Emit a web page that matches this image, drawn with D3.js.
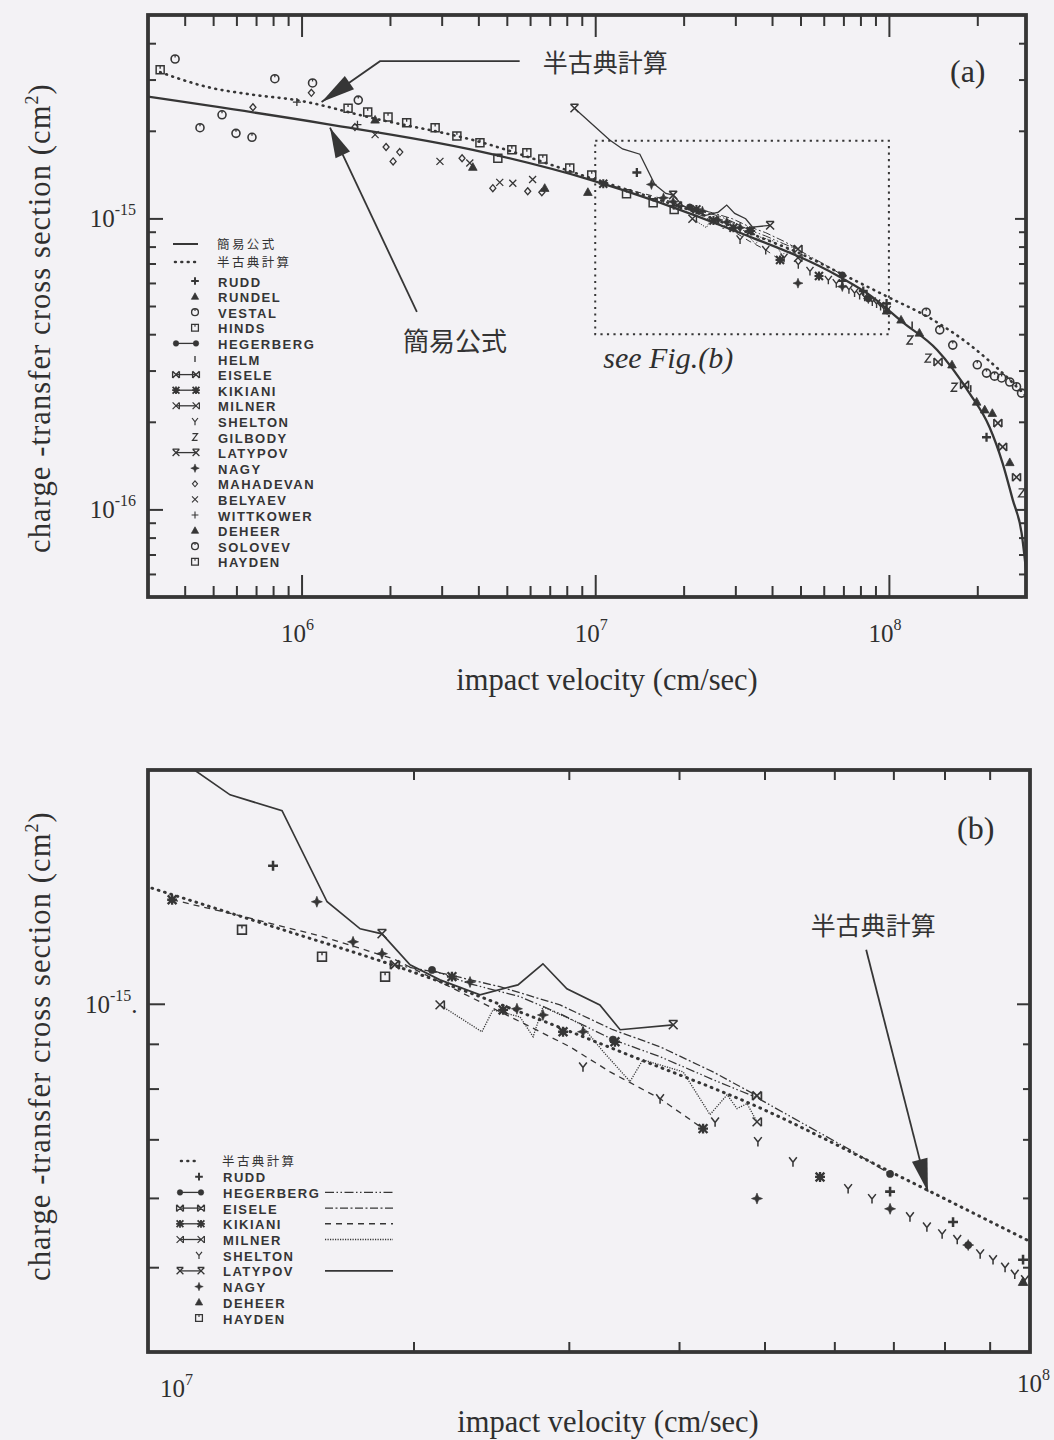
<!DOCTYPE html>
<html>
<head>
<meta charset="utf-8">
<script src="https://cdn.jsdelivr.net/npm/d3@7"></script>
<style>
  body { margin: 0; background: #f3f2f5; }
  svg { display: block; }
  .serif { font-family: "Liberation Serif", "Times New Roman", serif; fill: #2f2f2f; }
  .jp { font-family: "Noto Sans CJK JP", sans-serif; fill: #333; }
  .leg { font-family: "Liberation Sans", Arial, sans-serif; font-weight: bold; font-size: 13px; letter-spacing: 1.5px; fill: #353535; }
</style>
</head>
<body>
<svg id="chart" width="1054" height="1440"></svg>
<script>
// velocity in cm/sec, cross section in units of 1e-16 cm^2

var legendA = ["簡易公式", "半古典計算", "RUDD", "RUNDEL", "VESTAL", "HINDS", "HEGERBERG", "HELM",
  "EISELE", "KIKIANI", "MILNER", "SHELTON", "GILBODY", "LATYPOV", "NAGY", "MAHADEVAN",
  "BELYAEV", "WITTKOWER", "DEHEER", "SOLOVEV", "HAYDEN"];
var legendB = ["半古典計算", "RUDD", "HEGERBERG", "EISELE", "KIKIANI", "MILNER", "SHELTON",
  "LATYPOV", "NAGY", "DEHEER", "HAYDEN"];

var xMajorA = [1e6, 1e7, 1e8];
var yMajorA = [1, 10];
var xEndsB = [1e7, 1e8];
var yMajorB = [10];

// 簡易公式
var formulaLine = [[3.0e5, 26.2], [1.22e6, 21.1], [3.83e6, 17.2], [9.57e6, 13.6], [2.94e7, 9.12],
  [6.79e7, 6.3], [8.61e7, 5.45], [1.11e8, 4.41], [1.46e8, 3.53], [1.88e8, 2.51], [2.20e8, 1.92],
  [2.44e8, 1.44], [2.64e8, 1.08], [2.83e8, 0.83], [2.93e8, 0.62]];
// 半古典計算
var semiLine = [[3.3e5, 31.8], [4.77e5, 28.3], [6.83e5, 26.6], [9.6e5, 25.5], [1.75e6, 22.1],
  [3.83e6, 18.6], [1.0e7, 13.6], [1.386e7, 12.25], [1.967e7, 10.93], [2.782e7, 9.59],
  [3.548e7, 8.70], [4.903e7, 7.63], [6.94e7, 6.43], [1.0e8, 5.35], [1.376e8, 4.55],
  [1.884e8, 3.68], [2.38e8, 3.01], [2.93e8, 2.45]];

var rudd = [[1.386e7, 14.38], [6.94e7, 6.10], [8.18e7, 5.63], [9.82e7, 5.10], [2.15e8, 1.77]];
var rundel = [[9.44e6, 12.3], [1.27e8, 4.04], [2.12e8, 2.20]];
var vestal = [[4.51e5, 20.5], [5.36e5, 22.7], [5.98e5, 19.6], [6.78e5, 19.0], [1.49e8, 4.14]];
var hinds = [[3.30e5, 32.4], [1.44e6, 23.9], [1.68e6, 23.2], [1.97e6, 22.3], [2.28e6, 21.3],
  [2.85e6, 20.5], [3.38e6, 19.2], [4.05e6, 18.2]];
var hegerbergLine = [[2.099e7, 10.93], [2.318e7, 10.54], [2.641e7, 10.19], [2.932e7, 9.74],
  [3.366e7, 9.10], [3.807e7, 8.70], [4.371e7, 8.19], [4.903e7, 7.81], [5.486e7, 7.33],
  [6.251e7, 6.81], [6.94e7, 6.39]];
var hegerbergPts = [[2.099e7, 10.93], [3.366e7, 9.10], [6.94e7, 6.39], [8.51e7, 5.30]];
var helm = [[1.2e8, 4.3], [1.9e8, 2.6]];
var eiseleLine = [[1.905e7, 11.08], [2.171e7, 10.82], [2.506e7, 10.46], [2.932e7, 9.97],
  [3.366e7, 9.34], [3.807e7, 8.93], [4.371e7, 8.36], [4.903e7, 7.85]];
var eiselePts = [[1.905e7, 11.08], [4.903e7, 7.85], [1.47e8, 3.21], [1.81e8, 2.68],
  [2.35e8, 1.98], [2.44e8, 1.64], [2.72e8, 1.29]];
var kikianiLine = [[1.065e7, 13.15], [1.271e7, 12.61], [1.579e7, 11.93], [1.896e7, 11.26],
  [2.258e7, 10.32], [2.641e7, 9.54], [3.009e7, 8.93], [3.341e7, 8.36], [3.807e7, 7.79],
  [4.259e7, 7.20]];
var kikianiPts = [[1.065e7, 13.15], [2.211e7, 10.74], [2.527e7, 9.84], [2.955e7, 9.29],
  [3.384e7, 9.05], [4.259e7, 7.20], [5.78e7, 6.34]];
var milnerLine = [[2.143e7, 9.97], [2.391e7, 9.29], [2.461e7, 9.84], [2.641e7, 9.66],
  [2.733e7, 9.17], [2.804e7, 9.92], [3.09e7, 9.49], [3.281e7, 8.82], [3.52e7, 8.15],
  [3.64e7, 8.63], [4.043e7, 8.36], [4.337e7, 7.47], [4.535e7, 7.87], [4.654e7, 7.59],
  [4.777e7, 7.69], [4.903e7, 7.33]];
var milnerPts = [[2.143e7, 9.97], [4.903e7, 7.33]];
var shelton = [[3.113e7, 8.47], [3.807e7, 7.79], [4.395e7, 7.33], [4.915e7, 6.96], [5.386e7, 6.60],
  [6.22e7, 6.15], [6.62e7, 5.99], [7.31e7, 5.71], [7.64e7, 5.56], [7.95e7, 5.46], [8.27e7, 5.38],
  [8.78e7, 5.18], [9.08e7, 5.10], [9.37e7, 5.00], [9.61e7, 4.91], [9.87e7, 4.84]];
var gilbody = [[1.18e8, 3.82], [1.36e8, 3.31], [1.67e8, 2.63], [2.83e8, 1.14]];
var latypovLine = [[8.5e6, 23.9], [1.12e7, 18.6], [1.239e7, 17.33], [1.419e7, 16.62],
  [1.596e7, 13.08], [1.74e7, 12.18], [1.842e7, 12.02], [1.982e7, 11.08], [2.143e7, 10.65],
  [2.379e7, 10.24], [2.627e7, 10.51], [2.804e7, 11.11], [2.985e7, 10.40], [3.253e7, 9.97],
  [3.43e7, 9.34], [3.94e7, 9.46]];
var latypovPts = [[8.5e6, 23.9], [1.842e7, 12.02], [3.94e7, 9.46]];
var nagy = [[1.554e7, 13.08], [1.708e7, 11.77], [1.842e7, 11.41], [2.318e7, 10.59], [2.62e7, 9.87],
  [2.804e7, 9.71], [3.113e7, 9.29], [4.903e7, 5.99], [6.94e7, 5.83], [8.51e7, 5.30]];
var mahadevan = [[6.83e5, 24.1], [1.08e6, 27.0], [1.52e6, 20.6], [1.94e6, 17.6], [2.16e6, 16.9],
  [2.05e6, 15.7], [3.52e6, 16.1], [4.48e6, 12.7], [5.89e6, 12.4], [6.58e6, 12.3]];
var belyaev = [[1.78e6, 19.4], [2.96e6, 15.7], [3.74e6, 15.5], [4.73e6, 13.3], [5.24e6, 13.2],
  [6.12e6, 13.6]];
var wittkower = [[9.64e5, 25.1], [1.55e6, 21.0]];
var deheer = [[1.78e6, 21.8], [3.83e6, 15.0], [6.73e6, 12.7], [9.82e7, 4.81], [1.10e8, 4.48],
  [1.64e8, 3.14], [1.99e8, 2.34], [2.25e8, 2.14], [2.58e8, 1.45]];
var solovev = [[3.71e5, 35.3], [8.11e5, 30.2], [1.09e6, 29.2], [1.56e6, 25.5], [1.34e8, 4.76],
  [1.65e8, 3.67], [2.0e8, 3.14], [2.15e8, 2.94], [2.29e8, 2.87], [2.42e8, 2.83], [2.58e8, 2.74],
  [2.72e8, 2.64], [2.83e8, 2.51]];
var hayden = [[4.66e6, 16.1], [5.2e6, 17.2], [5.85e6, 16.8], [6.63e6, 16.0], [8.19e6, 14.9],
  [9.73e6, 14.1], [1.278e7, 12.15], [1.575e7, 11.32], [1.857e7, 10.74]];

// region of (a) enlarged in (b)
var zoomBox = [[1e7, 4], [1e8, 18.5]];

var series = [
  { name: "RUDD", pts: rudd, marker: "plus" },
  { name: "RUNDEL", pts: rundel, marker: "tri" },
  { name: "VESTAL", pts: vestal, marker: "circleDot" },
  { name: "HINDS", pts: hinds, marker: "squareDot" },
  { name: "HEGERBERG", pts: hegerbergPts, line: hegerbergLine, marker: "dot", dash: "9,2.5,1.5,2.5,1.5,2.5" },
  { name: "HELM", pts: helm, marker: "bar" },
  { name: "EISELE", pts: eiselePts, line: eiseleLine, marker: "bowtie", dash: "8,2.5,2,2.5" },
  { name: "KIKIANI", pts: kikianiPts, line: kikianiLine, marker: "aster", dash: "6,5" },
  { name: "MILNER", pts: milnerPts, line: milnerLine, marker: "xbar", dash: "1.2,1.3" },
  { name: "SHELTON", pts: shelton, marker: "Y" },
  { name: "GILBODY", pts: gilbody, marker: "Z" },
  { name: "LATYPOV", pts: latypovPts, line: latypovLine, marker: "xtop", dash: null },
  { name: "NAGY", pts: nagy, marker: "star4" },
  { name: "MAHADEVAN", pts: mahadevan, marker: "diamond" },
  { name: "BELYAEV", pts: belyaev, marker: "x" },
  { name: "WITTKOWER", pts: wittkower, marker: "plusThin" },
  { name: "DEHEER", pts: deheer, marker: "tri" },
  { name: "SOLOVEV", pts: solovev, marker: "circleDot" },
  { name: "HAYDEN", pts: hayden, marker: "squareDot" }
];
var byName = {};
series.forEach(function(s) { byName[s.name] = s; });

var ink = "#363636";
var svg = d3.select("#chart");

function drawMarker(g, type, x, y, s) {
    s = s || 1;
    var m = g.append("g").attr("transform", "translate(" + x + "," + y + ") scale(" + s + ")");
    var p = function(d, w, fill) {
        m.append("path").attr("d", d)
            .attr("fill", fill ? ink : "none")
            .attr("stroke", ink)
            .attr("stroke-width", w);
    };
    switch (type) {
    case "plus": p("M-4.5,0H4.5M0,-4.5V4.5", 2.3); break;
    case "plusThin": p("M-4,0H4M0,-4V4", 1.3); break;
    case "tri": p("M0,-4.5L4.3,3.2L-4.3,3.2Z", 0.8, true); break;
    case "circleDot": p("M4,0A4,4 0 1 1 -4,0A4,4 0 1 1 4,0", 1.6); p("M0,-4V-1.5", 1.3); break;
    case "squareDot": p("M-4,-4H4V4H-4Z", 1.5); p("M0,-4V-1.2", 1.3); break;
    case "dot": p("M3.3,0A3.3,3.3 0 1 1 -3.3,0A3.3,3.3 0 1 1 3.3,0Z", 0.5, true); break;
    case "bar": p("M0,-3.5V3.5", 1.6); break;
    case "bowtie": p("M-4,-4L4,4M-4,4L4,-4M-4,-4V4M4,-4V4", 1.6); break;
    case "aster": p("M-4,-4L4,4M-4,4L4,-4M0,-4.5V4.5M-4.5,0H4.5", 2.1); break;
    case "xbar": p("M-4,-4L4,4M-4,4L4,-4M4,-4V4", 1.4); break;
    case "Y": p("M-3.5,-4L0,0.5L3.5,-4M0,0.5V4.5", 1.4); break;
    case "Z": p("M-3,-4H3L-3,4H3", 1.4); break;
    case "xtop": p("M-4,-4H4M-4,-4L4,4M4,-4L-4,4", 1.5); break;
    case "star4": p("M0,-5L1.4,-1.4L5,0L1.4,1.4L0,5L-1.4,1.4L-5,0L-1.4,-1.4Z", 0.6, true); break;
    case "diamond": p("M0,-3.5L3,0L0,3.5L-3,0Z", 1.3); break;
    case "x": p("M-3.5,-3.5L3.5,3.5M-3.5,3.5L3.5,-3.5", 1.3); break;
    }
}

// all k*10^n strictly inside (lo, hi)
function logTicks(lo, hi) {
    var out = [];
    for (var n = Math.floor(Math.log10(lo)); n <= Math.ceil(Math.log10(hi)); n++) {
        for (var k = 1; k <= 9; k++) {
            var v = k * Math.pow(10, n);
            if (v > lo * 1.0001 && v < hi * 0.9999) out.push({ v: v, major: k == 1 });
        }
    }
    return out;
}

function tickSet(g, axisFn, scale, vals, len, tr) {
    g.append("g").attr("transform", tr)
        .call(axisFn(scale).tickValues(vals).tickSize(-len).tickFormat(""))
        .call(function(s) { s.select(".domain").remove(); })
        .call(function(s) { s.selectAll("line").attr("stroke", ink).attr("stroke-width", 2); });
}

function drawFrame(g, x, y, len) {
    var xr = x.range(), yr = y.range();
    var xt = logTicks(x.domain()[0], x.domain()[1]);
    var yt = logTicks(y.domain()[0], y.domain()[1]);
    var xMaj = xt.filter(function(d) { return d.major; }).map(function(d) { return d.v; });
    var xMin = xt.filter(function(d) { return !d.major; }).map(function(d) { return d.v; });
    var yMaj = yt.filter(function(d) { return d.major; }).map(function(d) { return d.v; });
    var yMin = yt.filter(function(d) { return !d.major; }).map(function(d) { return d.v; });
    tickSet(g, d3.axisBottom, x, xMaj, len.xMaj, "translate(0," + yr[0] + ")");
    tickSet(g, d3.axisBottom, x, xMin, len.xMin, "translate(0," + yr[0] + ")");
    tickSet(g, d3.axisTop, x, xMaj, len.xMaj, "translate(0," + yr[1] + ")");
    tickSet(g, d3.axisTop, x, xMin, len.xMin, "translate(0," + yr[1] + ")");
    tickSet(g, d3.axisLeft, y, yMaj, len.yMaj, "translate(" + xr[0] + ",0)");
    tickSet(g, d3.axisLeft, y, yMin, len.yMin, "translate(" + xr[0] + ",0)");
    tickSet(g, d3.axisRight, y, yMaj, len.rMaj, "translate(" + xr[1] + ",0)");
    tickSet(g, d3.axisRight, y, yMin, len.rMin, "translate(" + xr[1] + ",0)");
    g.append("rect").attr("x", xr[0]).attr("y", yr[1])
        .attr("width", xr[1] - xr[0]).attr("height", yr[0] - yr[1])
        .attr("fill", "none").attr("stroke", ink).attr("stroke-width", 3.8);
}

function powLabel(g, x, y, exp, anchor, tail) {
    var t = g.append("text").attr("class", "serif").attr("x", x).attr("y", y)
        .attr("text-anchor", anchor).attr("font-size", 25);
    t.append("tspan").text("10");
    t.append("tspan").attr("font-size", 16).attr("dy", -12).text(exp);
    if (tail) t.append("tspan").attr("dy", 12).text(tail);
}

function axisTitles(g, x, y, cx, cy) {
    g.append("text").attr("class", "serif").attr("x", cx).attr("y", y)
        .attr("text-anchor", "middle").attr("font-size", 30.5).text("impact velocity (cm/sec)");
    var t = g.append("text").attr("class", "serif")
        .attr("transform", "translate(" + x + "," + cy + ") rotate(-90)")
        .attr("text-anchor", "middle").attr("font-size", 30.5).attr("letter-spacing", 1.1);
    t.append("tspan").text("charge -transfer cross section (cm");
    t.append("tspan").attr("font-size", 18).attr("dy", -12).text("2");
    t.append("tspan").attr("dy", 12).text(")");
}

function arrow(g, pts, len, half) {
    g.append("path").attr("d", d3.line()(pts))
        .attr("fill", "none").attr("stroke", ink).attr("stroke-width", 1.8);
    var a = pts[pts.length - 2], b = pts[pts.length - 1];
    var dx = b[0] - a[0], dy = b[1] - a[1], L = Math.sqrt(dx * dx + dy * dy);
    var ux = dx / L, uy = dy / L;
    var bx = b[0] - ux * len, by = b[1] - uy * len;
    g.append("path")
        .attr("d", "M" + b[0] + "," + b[1] + "L" + (bx - uy * half) + "," + (by + ux * half)
            + "L" + (bx + uy * half) + "," + (by - ux * half) + "Z")
        .attr("fill", ink);
}

function dataLayer(g, x, y, names, clipId, ms, lw) {
    var lineGen = d3.line().x(function(d) { return x(d[0]); }).y(function(d) { return y(d[1]); });
    var layer = g.append("g").attr("clip-path", "url(#" + clipId + ")");
    names.forEach(function(n) {
        var s = byName[n];
        if (!s || !s.line) return;
        layer.append("path").attr("d", lineGen(s.line)).attr("fill", "none")
            .attr("stroke", ink).attr("stroke-width", n == "LATYPOV" ? lw * 1.3 : lw)
            .attr("stroke-dasharray", s.dash);
    });
    names.forEach(function(n) {
        var s = byName[n];
        if (!s) return;
        s.pts.forEach(function(d) { drawMarker(layer, s.marker, x(d[0]), y(d[1]), ms); });
    });
    return layer;
}

function clip(id, x, y) {
    svg.append("clipPath").attr("id", id).append("rect")
        .attr("x", x.range()[0]).attr("y", y.range()[1])
        .attr("width", x.range()[1] - x.range()[0]).attr("height", y.range()[0] - y.range()[1]);
}

// ---------------- panel (a) ----------------
var xa = d3.scaleLog().domain([3e5, 2.93e8]).range([148, 1026]);
var ya = d3.scaleLog().domain([0.5, 50]).range([597, 15]);
clip("clipA", xa, ya);
var ga = svg.append("g");
var smooth = d3.line().curve(d3.curveMonotoneX)
    .x(function(d) { return xa(d[0]); }).y(function(d) { return ya(d[1]); });

var layerA = dataLayer(ga, xa, ya, series.map(function(s) { return s.name; }), "clipA", 1, 1);
layerA.append("path").attr("d", smooth(formulaLine)).attr("fill", "none")
    .attr("stroke", ink).attr("stroke-width", 2.3);
layerA.append("path").attr("d", smooth(semiLine)).attr("fill", "none")
    .attr("stroke", ink).attr("stroke-width", 2.6).attr("stroke-linecap", "round")
    .attr("stroke-dasharray", "0.8,5.6");

// dotted box -> see Fig.(b)
ga.append("rect")
    .attr("x", xa(zoomBox[0][0])).attr("y", ya(zoomBox[1][1]))
    .attr("width", xa(zoomBox[1][0]) - xa(zoomBox[0][0]))
    .attr("height", ya(zoomBox[0][1]) - ya(zoomBox[1][1]))
    .attr("fill", "none").attr("stroke", ink).attr("stroke-width", 2)
    .attr("stroke-dasharray", "2.2,4.3");
ga.append("text").attr("class", "serif").attr("font-style", "italic").attr("font-size", 30)
    .attr("x", xa(zoomBox[0][0]) + 8).attr("y", ya(zoomBox[0][1]) + 34).text("see Fig.(b)");

drawFrame(ga, xa, ya, { xMaj: 22, xMin: 11, yMaj: 15, yMin: 8, rMaj: 11, rMin: 7 });

xMajorA.forEach(function(v) {
    powLabel(ga, xa(v) - 4, 642, String(Math.round(Math.log10(v))), "middle");
});
yMajorA.forEach(function(v) {
    powLabel(ga, 136, ya(v) + 9, String(Math.round(Math.log10(v * 1e-16))), "end");
});
axisTitles(ga, 50, 690, 607, 318);

ga.append("text").attr("class", "serif").attr("font-size", 32).attr("x", 950).attr("y", 82).text("(a)");

// leaders in (a)
var semiTipA = [[5.53e6, 34.7], [1.85e6, 34.7], [1.17e6, 25.1]].map(function(d) { return [xa(d[0]), ya(d[1])]; });
arrow(ga, semiTipA, 34, 8);
ga.append("text").attr("class", "jp").attr("font-size", 25).attr("dominant-baseline", "central")
    .attr("x", semiTipA[0][0] + 23).attr("y", semiTipA[0][1]).text("半古典計算");
var formTipA = [[2.47e6, 4.77], [1.25e6, 20.5]].map(function(d) { return [xa(d[0]), ya(d[1])]; });
arrow(ga, formTipA, 30, 8);
ga.append("text").attr("class", "jp").attr("font-size", 26).attr("dominant-baseline", "central")
    .attr("x", formTipA[0][0] - 14).attr("y", formTipA[0][1] + 28).text("簡易公式");

// legend (a): the two curve rows are spaced a bit wider than the data rows
var legA = ga.append("g");
legendA.forEach(function(n, i) {
    var cy = i < 2 ? 244 + i * 18 : 281 + (i - 2) * 15.6;
    var s = byName[n];
    if (i == 0) {
        legA.append("line").attr("x1", 173).attr("x2", 198).attr("y1", cy).attr("y2", cy)
            .attr("stroke", ink).attr("stroke-width", 2);
    } else if (i == 1) {
        legA.append("line").attr("x1", 175).attr("x2", 197).attr("y1", cy).attr("y2", cy)
            .attr("stroke", ink).attr("stroke-width", 2.6).attr("stroke-linecap", "round")
            .attr("stroke-dasharray", "0.8,5.6");
    } else if (s.line) {
        legA.append("line").attr("x1", 176).attr("x2", 196).attr("y1", cy).attr("y2", cy)
            .attr("stroke", ink).attr("stroke-width", 1.3);
        drawMarker(legA, s.marker, 176, cy, 0.85);
        drawMarker(legA, s.marker, 196, cy, 0.85);
    } else {
        drawMarker(legA, s.marker, 195, cy, 0.85);
    }
    if (i < 2) {
        legA.append("text").attr("class", "jp").attr("font-size", 12.5).attr("letter-spacing", 2.4)
            .attr("x", 217).attr("y", cy + 4.5).text(n);
    } else {
        legA.append("text").attr("class", "leg").attr("x", 218).attr("y", cy + 5.5).text(n);
    }
});

// ---------------- panel (b) ----------------
var xb = d3.scaleLog().domain([1e7, 1e8]).range([148, 1030]);
var yb = d3.scaleLog().domain([4, 18.5]).range([1352, 770]);
clip("clipB", xb, yb);
var gb = svg.append("g");
var smoothB = d3.line().curve(d3.curveMonotoneX)
    .x(function(d) { return xb(d[0]); }).y(function(d) { return yb(d[1]); });

var layerB = dataLayer(gb, xb, yb, legendB, "clipB", 1.1, 1.3);
layerB.append("path").attr("d", smoothB(semiLine)).attr("fill", "none")
    .attr("stroke", ink).attr("stroke-width", 3).attr("stroke-linecap", "round")
    .attr("stroke-dasharray", "0.8,5.8");

drawFrame(gb, xb, yb, { xMaj: 18, xMin: 10, yMaj: 17, yMin: 11, rMaj: 13, rMin: 7 });

powLabel(gb, 160, 1397, String(Math.log10(xEndsB[0])), "start");
powLabel(gb, 1050, 1392, String(Math.log10(xEndsB[1])), "end");
yMajorB.forEach(function(v) {
    powLabel(gb, 85, yb(v) + 9, String(Math.round(Math.log10(v * 1e-16))), "start", ".");
});
axisTitles(gb, 50, 1432, 608, 1046);
gb.append("text").attr("class", "serif").attr("font-size", 32).attr("x", 957).attr("y", 839).text("(b)");

var semiTipB = [[6.52e7, 11.53], [7.66e7, 6.10]].map(function(d) { return [xb(d[0]), yb(d[1])]; });
arrow(gb, semiTipB, 33, 8);
gb.append("text").attr("class", "jp").attr("font-size", 25).attr("dominant-baseline", "central")
    .attr("text-anchor", "middle").attr("x", semiTipB[0][0] + 7).attr("y", semiTipB[0][1] - 26)
    .text("半古典計算");

// legend (b)
var legB = gb.append("g");
legendB.forEach(function(n, i) {
    var cy = 1161 + i * 15.7;
    var s = byName[n];
    if (i == 0) {
        legB.append("line").attr("x1", 181).attr("x2", 198).attr("y1", cy).attr("y2", cy)
            .attr("stroke", ink).attr("stroke-width", 2.6).attr("stroke-linecap", "round")
            .attr("stroke-dasharray", "0.8,5.6");
        legB.append("text").attr("class", "jp").attr("font-size", 12.5).attr("letter-spacing", 2.4)
            .attr("x", 222).attr("y", cy + 4.5).text(n);
        return;
    }
    if (s.line) {
        legB.append("line").attr("x1", 180).attr("x2", 201).attr("y1", cy).attr("y2", cy)
            .attr("stroke", ink).attr("stroke-width", 1.3);
        drawMarker(legB, s.marker, 180, cy, 0.85);
        drawMarker(legB, s.marker, 201, cy, 0.85);
        legB.append("line").attr("x1", 325).attr("x2", 393).attr("y1", cy).attr("y2", cy)
            .attr("stroke", ink).attr("stroke-width", n == "LATYPOV" ? 1.8 : 1.4)
            .attr("stroke-dasharray", s.dash);
    } else {
        drawMarker(legB, s.marker, 199, cy, 0.85);
    }
    legB.append("text").attr("class", "leg").attr("x", 223).attr("y", cy + 5.5).text(n);
});
</script>
</body>
</html>
